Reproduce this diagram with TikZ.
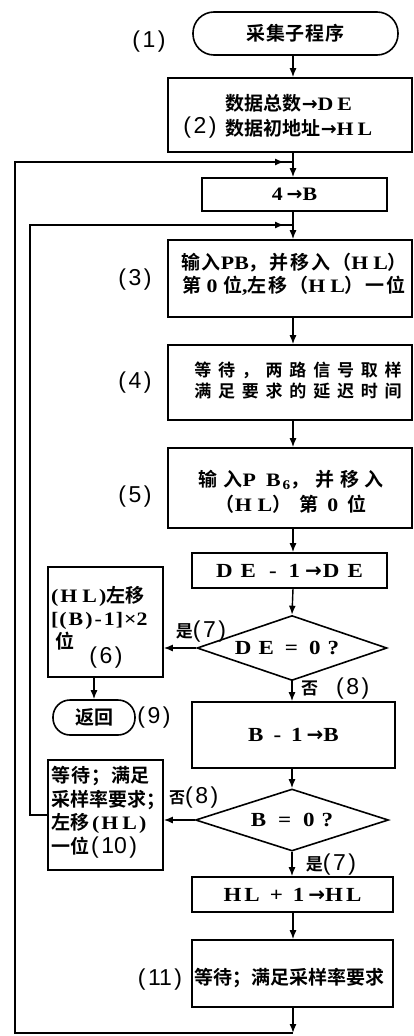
\documentclass[tikz,border=0pt]{standalone}
\usepackage{fontspec}
\setmainfont{Liberation Serif}[FakeStretch=1.15]
\newfontfamily\cjk{Noto Sans CJK SC}[BoldFont={Noto Sans CJK SC Bold}]
\newfontfamily\labfont{Liberation Sans}
\newfontfamily\arfont{DejaVu Sans}
\usetikzlibrary{shapes.geometric,arrows.meta}
\newcommand\zh[1]{{\cjk\bfseries #1}}
\newcommand\zs[2]{{\cjk\bfseries\addfontfeatures{LetterSpace=#1}#2}}
\newcommand\ra{{\arfont\bfseries →}}
\newcommand\lp[1]{(\kern2.5pt#1\kern2.5pt)}
\tikzset{
  box/.style={draw, line width=1.6pt, inner sep=0pt},
  dia/.style={draw, diamond, line width=1.6pt, inner sep=0pt},
  arr/.style={line width=1.4pt, -{Latex[length=9pt,width=7pt]}},
  ln/.style={line width=1.4pt},
  txt/.style={font=\fontsize{19}{23}\selectfont\bfseries, inner sep=0pt, align=center},
  lbl/.style={font=\fontsize{23}{26}\selectfont\labfont, inner sep=0pt}
}
\begin{document}
\begin{tikzpicture}[x=1pt,y=-1pt]
\useasboundingbox (0,0) rectangle (414,1036);
% boxes
\node[box, txt, rounded corners=21pt, minimum width=205pt, minimum height=43pt] (start) at (295.5,33.5) {\zs{5}{采集子程序}};
\node[box, minimum width=244pt, minimum height=74pt] (b2) at (290,115) {};
\node[txt, align=left, font=\fontsize{19}{25}\selectfont\bfseries] (t2) at (299,116) {\zh{数据总数}\ra D\kern4pt E\\\zh{数据初地址}\ra H\kern4pt L};
\node[box, txt, font=\fontsize{19}{20}\selectfont\bfseries, minimum width=185pt, minimum height=33pt] (b4B) at (294.5,194.5) {4\kern4pt\ra B};
\node[box, minimum width=244pt, minimum height=77pt] (b3) at (290,278.5) {};
\node[txt] (t3) at (294,274) {\zs{10}{输入}PB\zs{10}{，并移入（}H\kern5pt L\zh{）}\\\zs{10}{第}\ 0\ \zs{10}{位},\zs{10}{左移（}H\kern5pt L\zs{10}{）一位}};
\node[box, minimum width=244pt, minimum height=75pt] (b4) at (290,382.5) {};
\node[txt, font=\fontsize{17}{21}\selectfont\bfseries] (t4) at (298,381) {\zs{40}{等待，两路信号取样}\\\zs{40}{满足要求的延迟时间}};
\node[box, minimum width=244pt, minimum height=80pt] (b5) at (290,488) {};
\node[txt, font=\fontsize{19}{25}\selectfont\bfseries] (t5) at (291,492) {\zs{35}{输入}P\kern10pt B\kern2pt\textsubscript{6}\zs{30}{，并移入}\\\zh{（}H\kern6pt L\zh{）}\kern8pt\zh{第}\kern9pt 0\kern9pt\zh{位}};
\node[box, txt, font=\fontsize{20}{22}\selectfont\bfseries, minimum width=195pt, minimum height=35pt] (bDE) at (289.5,570.5) {D\kern8pt E\kern13pt -\kern12pt 1\kern5pt\ra\kern1pt D\kern8pt E};
\node[dia, minimum width=190pt, minimum height=65pt] (d1) at (292,648) {};
\node[txt, font=\fontsize{20}{22}\selectfont\bfseries] (td1) at (287,648) {D\kern7pt E\kern11pt =\kern11pt 0\kern7pt ?};
\node[box, minimum width=115pt, minimum height=110pt] (b6) at (105.5,622) {};
\node[txt, align=left, anchor=west, font=\fontsize{19}{23}\selectfont\bfseries] (t6) at (51,618) {(\kern2pt H\kern5pt L\kern2pt)\zh{左移}\\{[}\kern1pt(\kern2pt B\kern2pt)\kern2pt-\kern2pt 1\kern1pt]\kern1pt×2\\\kern4pt\zh{位}};
\node[box, txt, rounded corners=17pt, minimum width=82pt, minimum height=35pt] (ret) at (94,717.5) {\zh{返回}};
\node[box, txt, font=\fontsize{20}{22}\selectfont\bfseries, minimum width=203pt, minimum height=66pt] (bB) at (293.5,735) {B\kern10pt -\kern10pt 1\kern4pt\ra B};
\node[dia, minimum width=193pt, minimum height=62pt] (d2) at (292,820) {};
\node[txt, font=\fontsize{20}{22}\selectfont\bfseries] (td2) at (292,820) {B\kern12pt =\kern12pt 0\kern7pt ?};
\node[box, minimum width=115pt, minimum height=110pt] (b10) at (105.5,815) {};
\node[txt, align=left, anchor=west, font=\fontsize{19}{23.5}\selectfont\bfseries] (t10) at (51,812) {\zs{5}{等待；满足}\\\zh{采样率要求；}\\\zh{左移}\kern3pt(\kern2pt H\kern4pt L\kern2pt)\\\zh{一位}\kern2pt{\labfont\mdseries\fontsize{23}{23}\selectfont\lp{10}}};
\node[box, txt, font=\fontsize{20}{22}\selectfont\bfseries, minimum width=201pt, minimum height=35pt] (bHL) at (292.5,894.5) {H\kern3pt L\kern10pt +\kern10pt 1\kern4pt\ra H\kern3pt L};
\node[box, minimum width=201pt, minimum height=67pt] (b11) at (292.5,973.5) {};
\node[txt, font=\fontsize{19}{22}\selectfont\bfseries] (t11) at (289,978) {\zh{等待；满足采样率要求}};
% labels
\node[lbl] (l1) at (149,42) {\lp{1}};
\node[lbl] (l2) at (200,128) {\lp{2}};
\node[lbl] (l3) at (135,280) {\lp{3}};
\node[lbl] (l4) at (135,383) {\lp{4}};
\node[lbl] (l5) at (135,497) {\lp{5}};
\node[lbl] (l6) at (106,658) {\lp{6}};
\node[lbl] (l7a) at (201,632) {{\fontsize{17}{17}\selectfont\zh{是}}\lp{7}};
\node[lbl, anchor=west] (l8a) at (301,689) {{\fontsize{17}{17}\selectfont\zh{否}}\hspace{18pt}\lp{8}};
\node[lbl] (l9) at (154,718) {\lp{9}};
\node[lbl, anchor=west] (l8b) at (169,798) {{\fontsize{16}{16}\selectfont\zh{否}}\lp{8}};
\node[lbl] (l7b) at (331,865) {{\fontsize{17}{17}\selectfont\zh{是}}\lp{7}};
\node[lbl] (l11) at (160,980) {\lp{11}};
% connectors
\coordinate (col) at (293,0);
\draw[arr] (start.south -| col) -- (b2.north -| col);
\draw[arr] (b2.south -| col) -- (b4B.north -| col);
\draw[arr] (b4B.south -| col) -- (b3.north -| col);
\draw[arr] (b3.south -| col) -- (b4.north -| col);
\draw[arr] (b4.south -| col) -- (b5.north -| col);
\draw[arr] (b5.south -| col) -- (bDE.north -| col);
\draw[arr] (bDE.south -| col) -- (d1.north);
\draw[arr] (d1.south) -- (bB.north -| d1.south);
\draw[arr] (bB.south -| d2.north) -- (d2.north);
\draw[arr] (d2.south) -- (bHL.north -| d2.south);
\draw[arr] (bHL.south -| col) -- (b11.north -| col);
\coordinate (ob) at (293,1033);
\coordinate (obl) at (15,1033);
\coordinate (otl) at (15,162);
\coordinate (m1) at (293,162);
\draw[arr] (b11.south -| col) -- (ob);
\draw[ln] (ob) -- (obl) -- (otl) -- (m1);
\draw[arr, shorten >=9pt] (otl) -- (m1);
\coordinate (ibl) at (30,815);
\coordinate (itl) at (30,225);
\coordinate (m2) at (293,225);
\draw[ln] (b10.west) -- (ibl) -- (itl) -- (m2);
\draw[arr, shorten >=9pt] (itl) -- (m2);
\draw[arr] (d1.west) -- (d1.west -| b6.east);
\draw[arr] (d2.west) -- (d2.west -| b10.east);
\draw[arr] (b6.south -| ret.north) -- (ret.north);
\end{tikzpicture}
\end{document}
